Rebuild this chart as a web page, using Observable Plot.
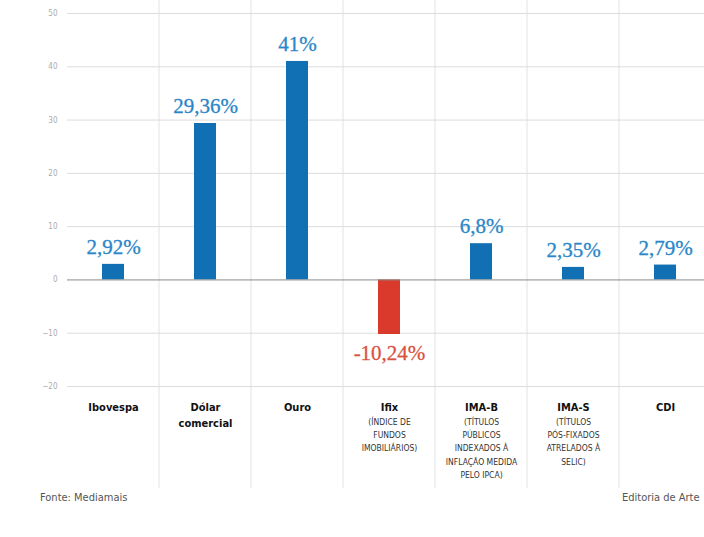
<!DOCTYPE html>
<html>
<head>
<meta charset="utf-8">
<script src="https://cdn.jsdelivr.net/npm/d3@7"></script>
<script src="https://cdn.jsdelivr.net/npm/@observablehq/plot@0.6"></script>
<style>
  html, body { margin: 0; padding: 0; background: #fff; overflow: hidden; width: 704px; height: 537px; }
  #wrap { position: relative; width: 712px; }
  #footer { position: relative; height: 47px; font-family: "DejaVu Sans Condensed", "DejaVu Sans", sans-serif; font-size: 11px; color: #555; }
  #footer .l { position: absolute; left: 40px; top: 1px; }
  #footer .r { position: absolute; left: 622px; top: 1px; white-space: nowrap; }
</style>
</head>
<body>
<div id="wrap"></div>
<script>
const categories = ["Ibovespa", "Dólar\ncomercial", "Ouro", "Ifix", "IMA-B", "IMA-S", "CDI"];
const subtitles = ["", "", "", "(ÍNDICE DE\nFUNDOS\nIMOBILIÁRIOS)", "(TÍTULOS\nPÚBLICOS\nINDEXADOS À\nINFLAÇÃO MEDIDA\nPELO IPCA)", "(TÍTULOS\nPÓS-FIXADOS\nATRELADOS À\nSELIC)", ""];
const values = [2.92, 29.36, 41, -10.24, 6.8, 2.35, 2.79];
const valueLabels = ["2,92%", "29,36%", "41%", "-10,24%", "6,8%", "2,35%", "2,79%"];
const yTicks = [50, 40, 30, 20, 10, 0, -10, -20];
const sourceText = "Fonte: Mediamais";
const creditText = "Editoria de Arte";

const data = categories.map((c, i) => ({name: c, sub: subtitles[i], value: values[i], label: valueLabels[i]}));
const blue = "#1170b3", red = "#d93a2b";
const blueText = "#2a86c8", redText = "#d9533f";

const vlines = (index, scales, values, dims) => {
  const x = scales.x;
  const bw = x.bandwidth ? x.bandwidth() : 0;
  const g = d3.create("svg:g");
  for (const c of categories) {
    const px = x(c) + bw;
    g.append("line").attr("x1", px).attr("x2", px).attr("y1", 0).attr("y2", dims.height - 2)
      .attr("stroke", "#e2e2e2").attr("stroke-width", 1);
  }
  return g.node();
};

const chart = Plot.plot({
  width: 712,
  height: 490,
  marginLeft: 67,
  marginRight: 1,
  marginTop: 13,
  marginBottom: 104,
  style: {background: "#fff"},
  x: {domain: categories, padding: 0, axis: null},
  y: {domain: [-20, 50], ticks: yTicks, label: null},
  marks: [
    vlines,
    Plot.gridY(yTicks.filter(t => t !== 0), {stroke: "#dcdcdc", strokeOpacity: 1}),
    Plot.axisY(yTicks, {tickSize: 0, tickPadding: 10, fontSize: 8, color: "#aaa", fontFamily: "DejaVu Sans Condensed", label: null}),
    Plot.barY(data, {x: "name", y: "value", fill: d => d.value < 0 ? red : blue, insetLeft: 35, insetRight: 35}),
    Plot.ruleY([0], {stroke: "#8a8a8a", strokeWidth: 1}),
    Plot.text(data.filter(d => d.value >= 0), {x: "name", y: "value", text: "label", dy: -17, fill: blueText, stroke: blueText, strokeWidth: 0.3, fontSize: 21, fontFamily: "Liberation Serif"}),
    Plot.text(data.filter(d => d.value < 0), {x: "name", y: "value", text: "label", dy: 19, fill: redText, stroke: redText, strokeWidth: 0.3, fontSize: 21, fontFamily: "Liberation Serif"}),
    Plot.text(data, {x: "name", frameAnchor: "bottom", text: "name", lineAnchor: "top", dy: 14, lineHeight: 1.4, fontSize: 11, fontWeight: "bold", fill: "#111", fontFamily: "DejaVu Sans Condensed"}),
    Plot.text(data.filter(d => d.sub), {x: "name", frameAnchor: "bottom", text: "sub", lineAnchor: "top", dy: 29, lineHeight: 1.56, fontSize: 8.5, fill: "#333", fontFamily: "DejaVu Sans Condensed"})
  ]
});

const wrap = document.getElementById("wrap");
wrap.appendChild(chart);
const footer = document.createElement("div");
footer.id = "footer";
footer.innerHTML = `<span class="l"></span><span class="r"></span>`;
footer.querySelector(".l").textContent = sourceText;
footer.querySelector(".r").textContent = creditText;
wrap.appendChild(footer);
</script>
</body>
</html>
